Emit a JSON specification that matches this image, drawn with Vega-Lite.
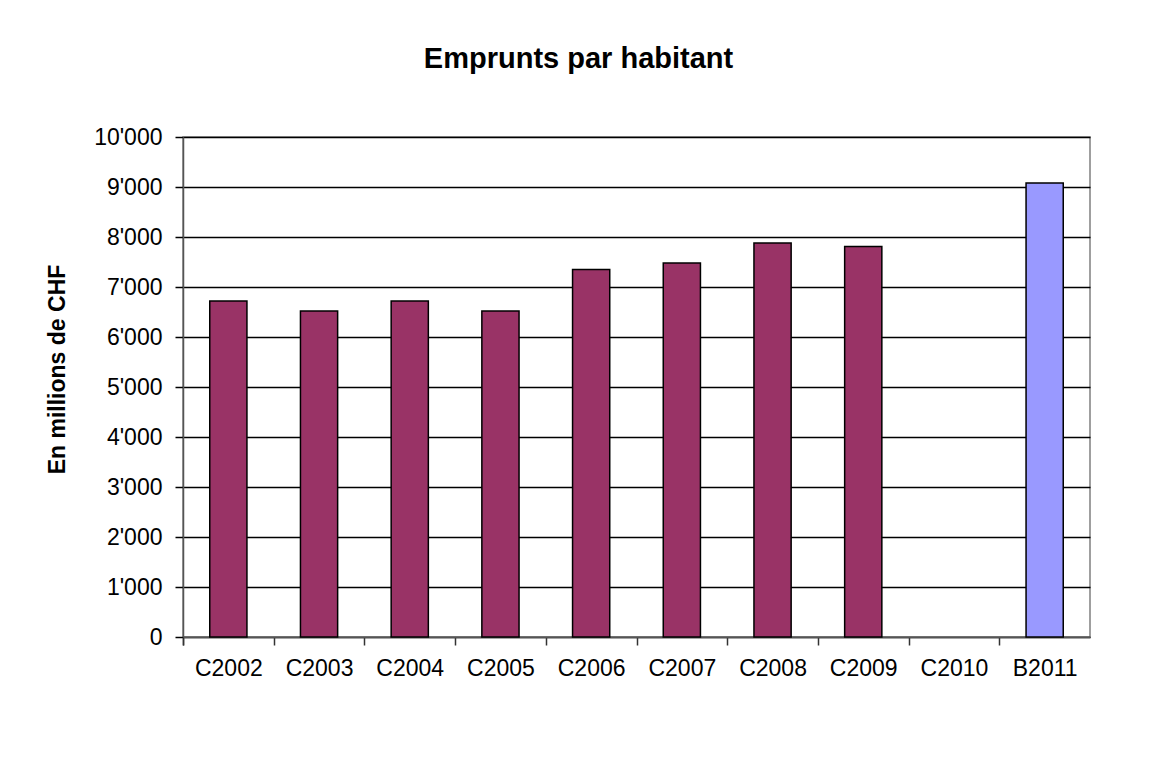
{
  "$schema": "https://vega.github.io/schema/vega-lite/v6.json",
  "autosize": {"type": "none"},
  "width": 907,
  "height": 500,
  "padding": {"left": 183, "top": 137, "right": 60, "bottom": 136},
  "background": "white",
  "title": {
    "text": "Emprunts par habitant",
    "font": "Liberation Sans",
    "fontSize": 29,
    "fontWeight": "bold",
    "color": "black",
    "anchor": "middle",
    "dx": -58,
    "offset": 52
  },
  "data": {
    "values": [
      {"annee": "C2002", "valeur": 6720, "type": "Compte"},
      {"annee": "C2003", "valeur": 6520, "type": "Compte"},
      {"annee": "C2004", "valeur": 6720, "type": "Compte"},
      {"annee": "C2005", "valeur": 6520, "type": "Compte"},
      {"annee": "C2006", "valeur": 7350, "type": "Compte"},
      {"annee": "C2007", "valeur": 7480, "type": "Compte"},
      {"annee": "C2008", "valeur": 7880, "type": "Compte"},
      {"annee": "C2009", "valeur": 7810, "type": "Compte"},
      {"annee": "C2010", "valeur": null, "type": "Compte"},
      {"annee": "B2011", "valeur": 9080, "type": "Budget"}
    ]
  },
  "mark": {"type": "bar", "stroke": "black", "strokeWidth": 1.5},
  "encoding": {
    "x": {
      "field": "annee",
      "type": "nominal",
      "sort": null,
      "scale": {
        "domain": ["C2002", "C2003", "C2004", "C2005", "C2006", "C2007", "C2008", "C2009", "C2010", "B2011"],
        "paddingInner": 0.59,
        "paddingOuter": 0.295
      },
      "axis": {
        "title": null,
        "labelAngle": 0,
        "labelFont": "Liberation Sans",
        "labelFontSize": 23,
        "labelColor": "black",
        "labelPadding": 12,
        "ticks": true,
        "bandPosition": 0,
        "tickOffset": -26.75,
        "labelOffset": 26.75,
        "tickExtra": true,
        "tickSize": 8,
        "tickColor": "#333333",
        "tickWidth": 1.5,
        "domainColor": "#555555",
        "domainWidth": 1.5,
        "grid": false
      }
    },
    "y": {
      "field": "valeur",
      "type": "quantitative",
      "scale": {"domain": [0, 10000], "nice": false},
      "axis": {
        "title": "En millions de CHF",
        "titleFont": "Liberation Sans",
        "titleFontSize": 23,
        "titleFontWeight": "bold",
        "titleColor": "black",
        "titlePadding": 24,
        "titleY": 232,
        "values": [0, 1000, 2000, 3000, 4000, 5000, 6000, 7000, 8000, 9000, 10000],
        "labelExpr": "replace(format(datum.value, ','), ',', \"'\")",
        "labelFont": "Liberation Sans",
        "labelFontSize": 23,
        "labelColor": "black",
        "labelPadding": 13,
        "tickSize": 8,
        "tickColor": "black",
        "tickWidth": 1.5,
        "domainColor": "#555555",
        "domainWidth": 1.5,
        "grid": true,
        "gridColor": "black",
        "gridWidth": 1.5,
        "gridOpacity": 1
      }
    },
    "color": {
      "field": "type",
      "type": "nominal",
      "scale": {"domain": ["Compte", "Budget"], "range": ["#993366", "#9999FF"]},
      "legend": null
    }
  },
  "config": {
    "view": {"stroke": "#808080", "strokeWidth": 1.5},
    "font": "Liberation Sans"
  }
}
